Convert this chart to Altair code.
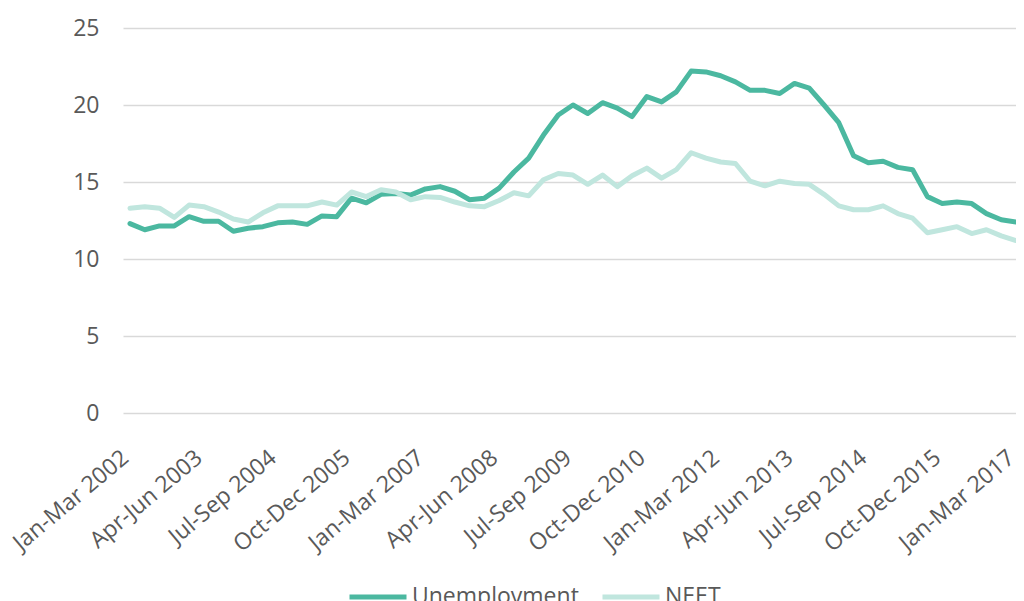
import json
import altair as alt
import pandas as pd

months = ["Jan-Mar", "Apr-Jun", "Jul-Sep", "Oct-Dec"]
quarters = [f"{months[i % 4]} {2002 + i // 4}" for i in range(61)]

tick_labels = ["Jan-Mar 2002", "Apr-Jun 2003", "Jul-Sep 2004", "Oct-Dec 2005",
               "Jan-Mar 2007", "Apr-Jun 2008", "Jul-Sep 2009", "Oct-Dec 2010",
               "Jan-Mar 2012", "Apr-Jun 2013", "Jul-Sep 2014", "Oct-Dec 2015",
               "Jan-Mar 2017"]
tick_index = [quarters.index(t) for t in tick_labels]

unemployment = [12.3, 11.9, 12.15, 12.15, 12.75, 12.45, 12.45, 11.8, 12.0, 12.1,
                12.35, 12.4, 12.25, 12.8, 12.75, 13.95, 13.65, 14.2, 14.25, 14.15,
                14.55, 14.7, 14.4, 13.85, 13.95, 14.6, 15.65, 16.55, 18.05, 19.35,
                20.0, 19.45, 20.15, 19.8, 19.25, 20.55, 20.2, 20.85, 22.2, 22.15,
                21.9, 21.5, 20.95, 20.95, 20.75, 21.4, 21.1, 20.0, 18.85, 16.7,
                16.25, 16.35, 15.95, 15.8, 14.05, 13.6, 13.7, 13.6, 12.95, 12.55,
                12.4]

neet = [13.3, 13.4, 13.3, 12.7, 13.5, 13.4, 13.05, 12.6, 12.4, 13.0,
        13.45, 13.45, 13.45, 13.7, 13.5, 14.35, 14.05, 14.5, 14.35, 13.85,
        14.05, 14.0, 13.7, 13.45, 13.4, 13.8, 14.3, 14.1, 15.15, 15.55,
        15.45, 14.85, 15.45, 14.7, 15.4, 15.9, 15.25, 15.8, 16.9, 16.55,
        16.3, 16.2, 15.05, 14.75, 15.05, 14.9, 14.85, 14.2, 13.45, 13.2,
        13.2, 13.45, 12.95, 12.65, 11.7, 11.9, 12.1, 11.65, 11.9, 11.5,
        11.2]

series_names = ["Unemployment", "NEET"]
series_colors = ["#4BB8A0", "#C0E6DE"]

rows = []
for i, q in enumerate(quarters):
    rows.append({"idx": i, "quarter": q, "series": "Unemployment", "value": unemployment[i], "ord": 0})
    rows.append({"idx": i, "quarter": q, "series": "NEET", "value": neet[i], "ord": 1})
df = pd.DataFrame(rows)

FONT = "Open Sans"
GRAY = "#595959"
label_expr = json.dumps(quarters) + "[datum.value]"

chart = alt.Chart(df).mark_line(strokeWidth=5, strokeJoin="round", strokeCap="round").encode(
    x=alt.X("idx:Q", title=None,
            scale=alt.Scale(domain=[-0.474, 60.0], nice=False, zero=False),
            axis=alt.Axis(values=tick_index, labelExpr=label_expr, labelAngle=-40,
                          labelAlign="right", labelBaseline="top", labelFontSize=23,
                          labelColor=GRAY, labelFont=FONT, ticks=False, domain=False,
                          grid=False, labelPadding=33, labelOffset=-12, labelOverlap=False,
                          labelFlush=False, labelBound=False, labelLimit=300)),
    y=alt.Y("value:Q", title=None,
            scale=alt.Scale(domain=[0, 25], nice=False),
            axis=alt.Axis(values=[0, 5, 10, 15, 20, 25], labelFontSize=23,
                          labelColor=GRAY, labelFont=FONT, ticks=False,
                          domain=False, gridColor="#D9D9D9", gridWidth=1.5,
                          labelPadding=24)),
    color=alt.Color("series:N", sort=series_names,
                    scale=alt.Scale(domain=series_names, range=series_colors),
                    legend=alt.Legend(title=None, orient="none", direction="horizontal",
                                      legendX=224, legendY=538,
                                      symbolType="stroke", symbolSize=3249,
                                      symbolStrokeWidth=5, labelFontSize=23,
                                      labelColor=GRAY, labelFont=FONT,
                                      labelOffset=3, columnPadding=13,
                                      labelLimit=400, padding=0)),
    order=alt.Order("ord:Q"),
).properties(
    width=893,
    height=385,
    autosize=alt.AutoSizeParams(type="none"),
    padding={"left": 115, "top": 20, "right": 0, "bottom": 200},
).configure_view(stroke=None)

chart.save("out.html", embed_options={"renderer": "svg", "actions": False})
